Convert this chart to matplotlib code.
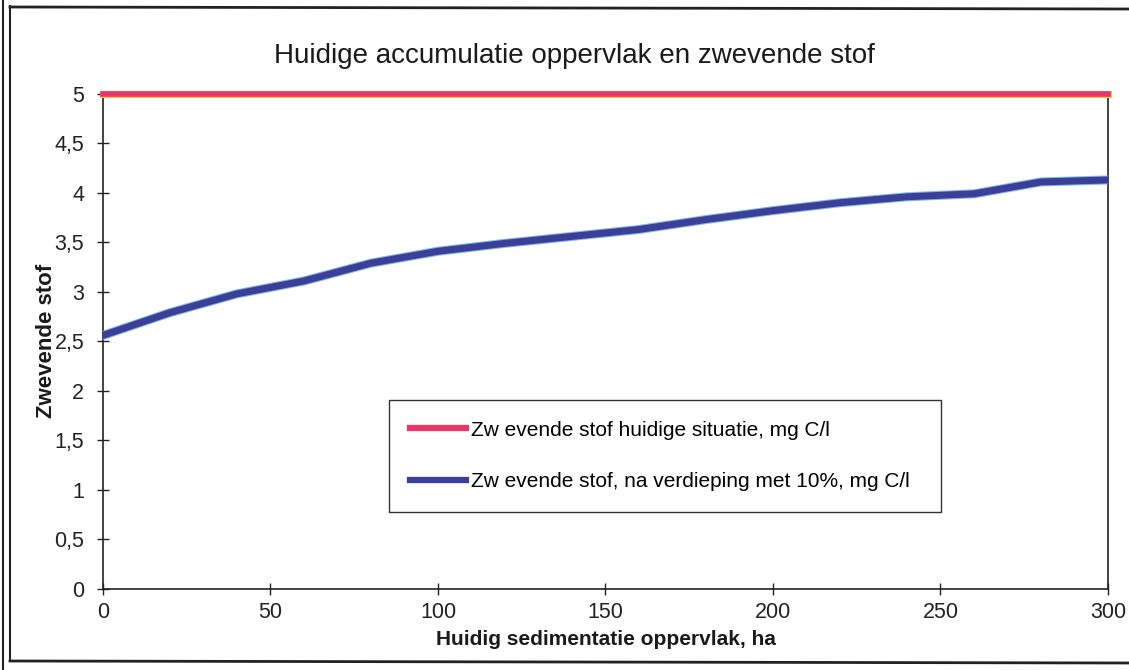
import numpy as np
import matplotlib
matplotlib.use("Agg")
import matplotlib.pyplot as plt
from matplotlib.lines import Line2D
from matplotlib.ticker import FuncFormatter

plt.rcParams['font.family'] = ['Liberation Sans', 'DejaVu Sans']

# oppervlak (ha)
opp = [0, 20, 40, 60, 80, 100, 120, 140, 160, 180, 200, 220, 240, 260, 280, 300]
# zwevende stof huidige situatie, mg C/l
huidig = [5, 5, 5, 5, 5, 5, 5, 5, 5, 5, 5, 5, 5, 5, 5, 5]
# zwevende stof na verdieping met 10%, mg C/l
verdiept = [2.56, 2.79, 2.98, 3.11, 3.29, 3.41, 3.49, 3.56, 3.63, 3.73,
            3.82, 3.90, 3.96, 3.99, 4.11, 4.13]

lbl_huidig = "Zw evende stof huidige situatie, mg C/l"
lbl_verdiept = "Zw evende stof, na verdieping met 10%, mg C/l"

fig = plt.figure(figsize=(11.29, 6.70), dpi=100)
ax = fig.add_axes([0.0912, 0.121, 0.8902, 0.739])

# lines
ax.plot(opp, verdiept, color='#7fb6e6', lw=6.5, solid_capstyle='round',
        solid_joinstyle='round', zorder=3)
ax.plot(opp, verdiept, color='#3b3f98', lw=5, solid_capstyle='round',
        solid_joinstyle='round', zorder=4)
ax.plot(opp, huidig, color='#f5c04a', lw=5, zorder=3, clip_on=False)
ax.plot(opp, huidig, color='#e8356c', lw=4, zorder=4, clip_on=False)

ax.set_xlim(0, 300)
ax.set_ylim(0, 5)
ax.set_xticks(np.arange(0, 301, 50))
ax.set_yticks(np.arange(0, 5.01, 0.5))
ax.yaxis.set_major_formatter(FuncFormatter(lambda v, p: ('%g' % v).replace('.', ',')))
ax.tick_params(direction='inout', length=9, width=1, labelsize=15.5, colors='#222222')
ax.tick_params(axis='x', pad=5)
ax.tick_params(axis='y', pad=9)
ax.spines['top'].set_visible(False)
for s in ['left', 'bottom', 'right']:
    ax.spines[s].set_color('#222222')
    ax.spines[s].set_linewidth(1.2)

ax.set_title("Huidige accumulatie oppervlak en zwevende stof", fontsize=20,
             pad=22, color='#1a1a1a', x=0.469)
ax.set_xlabel("Huidig sedimentatie oppervlak, ha", fontsize=15, fontweight='bold',
              labelpad=5, color='#1a1a1a')
ax.set_ylabel("Zwevende stof", fontsize=16, fontweight='bold', labelpad=-2,
              color='#1a1a1a')

handles = [Line2D([], [], color='#e8356c', lw=4.5),
           Line2D([], [], color='#3b3f98', lw=4.5)]
leg = ax.legend(handles, [lbl_huidig, lbl_verdiept], loc='lower left',
                bbox_to_anchor=(0.2844, 0.1556, 0.5494, 0.23), mode='expand',
                fontsize=15, fancybox=False, framealpha=1, edgecolor='#333333',
                handlelength=2.7, handletextpad=0.25, labelspacing=1.55,
                borderpad=1.0, borderaxespad=0)
leg.get_frame().set_linewidth(1.0)

# outer chart border (double line on the left)
W, H = 1129, 670
fig.add_artist(Line2D([3 / W, 3 / W], [0, 1], transform=fig.transFigure,
                      color='#222222', lw=1.5))
fig.add_artist(Line2D([10 / W, 10 / W], [1 - 660 / H, 1 - 6 / H],
                      transform=fig.transFigure, color='#222222', lw=1.5))
fig.add_artist(Line2D([10 / W, 1], [1 - 7 / H, 1 - 9 / H],
                      transform=fig.transFigure, color='#222222', lw=2))
fig.add_artist(Line2D([10 / W, 1], [1 - 661 / H, 1 - 663 / H],
                      transform=fig.transFigure, color='#222222', lw=2))

fig.savefig("out.png", dpi=100, facecolor='white')
